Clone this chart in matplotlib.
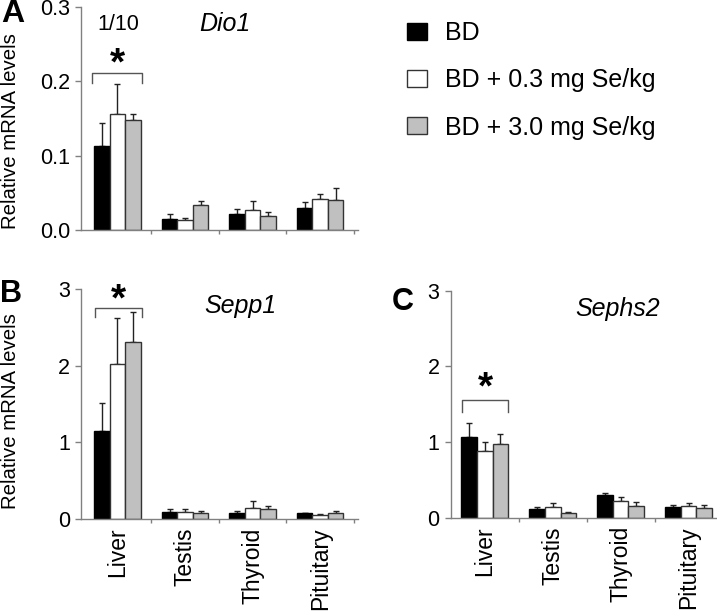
import matplotlib
matplotlib.use("Agg")
import matplotlib.pyplot as plt
from matplotlib.patches import Patch
import numpy as np

plt.rcParams['font.family'] = ['Liberation Sans', 'DejaVu Sans']

tissues = ["Liver", "Testis", "Thyroid", "Pituitary"]
groups = ["BD", "BD + 0.3 mg Se/kg", "BD + 3.0 mg Se/kg"]

# Dio1 (panel A) – liver shown at 1/10
dio1_bd = [0.113, 0.015, 0.0215, 0.029]
dio1_bd_err = [0.031, 0.006, 0.0065, 0.008]
dio1_03 = [0.156, 0.013, 0.027, 0.042]
dio1_03_err = [0.040, 0.003, 0.012, 0.006]
dio1_30 = [0.148, 0.033, 0.019, 0.041]
dio1_30_err = [0.008, 0.006, 0.005, 0.016]

# Sepp1 (panel B)
sepp1_bd = [1.15, 0.095, 0.074, 0.077]
sepp1_bd_err = [0.36, 0.031, 0.026, 0.0]
sepp1_03 = [2.03, 0.087, 0.14, 0.055]
sepp1_03_err = [0.60, 0.039, 0.095, 0.012]
sepp1_30 = [2.31, 0.074, 0.13, 0.074]
sepp1_30_err = [0.39, 0.026, 0.035, 0.026]

# Sephs2 (panel C)
sephs2_bd = [1.07, 0.11, 0.30, 0.145]
sephs2_bd_err = [0.18, 0.035, 0.025, 0.022]
sephs2_03 = [0.885, 0.145, 0.22, 0.154]
sephs2_03_err = [0.11, 0.055, 0.06, 0.036]
sephs2_30 = [0.97, 0.057, 0.16, 0.123]
sephs2_30_err = [0.14, 0.013, 0.05, 0.044]

W, H = 717, 613
fig = plt.figure(figsize=(W / 100, H / 100), dpi=100)


def rect(l, t, r, b):
    return [l / W, 1 - b / H, (r - l) / W, (b - t) / H]


def fx(x):
    return x / W


def fy(y):
    return 1 - y / H


fills = ["black", "white", "#c0c0c0"]
edges = ["black", "#333333", "#333333"]
spine_col = "#808080"
bw = 0.23
offs = [-bw, 0.0, bw]


def panel(ax, series, errs, ylim, yticks, fmt, xlim, show_labels):
    x = np.arange(len(tissues))
    for i in range(3):
        ax.bar(x + offs[i], series[i], width=bw, color=fills[i],
               edgecolor=edges[i], linewidth=1.0, zorder=2)
        ax.errorbar(x + offs[i], series[i], yerr=[np.zeros(4), errs[i]],
                    fmt="none", ecolor="#222222", elinewidth=1.0,
                    capsize=2.5, capthick=1.0, zorder=1)
    ax.set_xlim(*xlim)
    ax.set_ylim(*ylim)
    ax.set_yticks(yticks)
    ax.set_yticklabels([fmt.format(v) for v in yticks], fontsize=15.5)
    for s in ["top", "right"]:
        ax.spines[s].set_visible(False)
    for s in ["left", "bottom"]:
        ax.spines[s].set_color(spine_col)
        ax.spines[s].set_linewidth(1.0)
    ax.tick_params(axis="y", direction="out", length=4, color=spine_col,
                   width=1.0, pad=4)
    ax.set_xticks(x)
    if show_labels:
        ax.set_xticklabels(tissues, rotation=90, fontsize=16.5)
    else:
        ax.set_xticklabels([])
    ax.tick_params(axis="x", which="major", length=0, pad=6)
    ax.set_xticks(x + 0.5, minor=True)
    ax.tick_params(axis="x", which="minor", direction="out", length=3,
                   color=spine_col, width=1.0)
    ax.patch.set_alpha(0)


def bracket(ax, x0, x1, ytop, ybot, ystar, fs=28):
    ax.plot([x0, x0, x1, x1], [ybot, ytop, ytop, ybot], color="#555555",
            lw=1.0, clip_on=False)
    ax.text((x0 + x1) / 2, ystar, "*", ha="center", va="center",
            fontsize=fs, fontweight="bold", clip_on=False)


axA = fig.add_axes(rect(81, 7, 358, 230))
panel(axA, [dio1_bd, dio1_03, dio1_30], [dio1_bd_err, dio1_03_err, dio1_30_err],
      (0, 0.3), [0.0, 0.1, 0.2, 0.3], "{:.1f}", (-0.54, 3.56), False)
bracket(axA, -0.37, 0.36, 0.211, 0.198, 0.222)

axB = fig.add_axes(rect(81, 289.3, 358, 519))
panel(axB, [sepp1_bd, sepp1_03, sepp1_30], [sepp1_bd_err, sepp1_03_err, sepp1_30_err],
      (0, 3), [0, 1, 2, 3], "{:d}", (-0.54, 3.56), True)
bracket(axB, -0.34, 0.36, 2.75, 2.64, 2.86)

axC = fig.add_axes(rect(450.7, 290.7, 731.5, 517.7))
panel(axC, [sephs2_bd, sephs2_03, sephs2_30], [sephs2_bd_err, sephs2_03_err, sephs2_30_err],
      (0, 3), [0, 1, 2, 3], "{:d}", (-0.5, 3.63), True)
bracket(axC, -0.34, 0.35, 1.56, 1.40, 1.71)

# y labels
for yc in [131, 411]:
    fig.text(fx(10.5), fy(yc), "Relative mRNA levels", rotation=90,
             ha="center", va="center", fontsize=14.7)

# panel letters
fig.text(fx(1), fy(14), "A", fontsize=23, fontweight="bold", ha="left", va="center")
fig.text(fx(0), fy(294), "B", fontsize=22, fontweight="bold", ha="left", va="center")
fig.text(fx(392), fy(302), "C", fontsize=22, fontweight="bold", ha="left", va="center")

# gene titles / notes
fig.text(fx(118.3), fy(24.5), "1/10", fontsize=15.5, ha="center", va="center")
fig.text(fx(225), fy(24), "Dio1", fontsize=18, style="italic", ha="center", va="center")
fig.text(fx(240.5), fy(306), "Sepp1", fontsize=18, style="italic", ha="center", va="center")
fig.text(fx(617.5), fy(309), "Sephs2", fontsize=18, style="italic", ha="center", va="center")

# legend
handles = [Patch(facecolor=fills[i], edgecolor=edges[i], linewidth=1.0) for i in range(3)]
fig.legend(handles, groups, loc="upper left", bbox_to_anchor=(fx(406.7), fy(21)),
           frameon=False, fontsize=18, handlelength=0.8, handleheight=0.68,
           handletextpad=0.72, labelspacing=0.93, borderpad=0, borderaxespad=0)

fig.savefig("out.png", dpi=100)
